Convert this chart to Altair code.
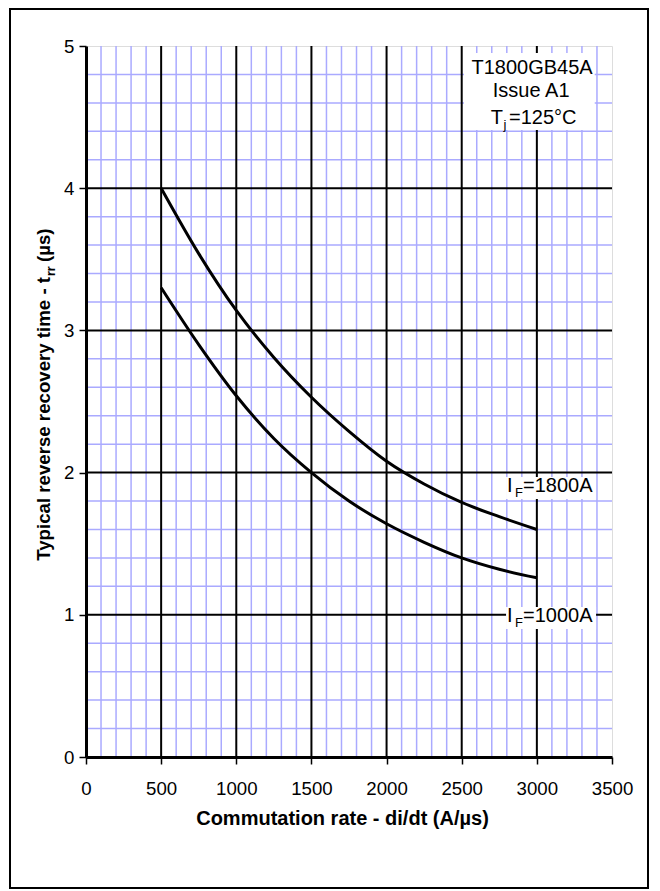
import altair as alt
import pandas as pd

# ---- data ----
di_dt = [500, 750, 1000, 1250, 1500, 1750, 2000, 2250, 2500, 2750, 3000]
trr_1800 = [4.00, 3.54, 3.14, 2.81, 2.53, 2.29, 2.08, 1.92, 1.79, 1.69, 1.60]
trr_1000 = [3.30, 2.90, 2.54, 2.24, 2.00, 1.80, 1.64, 1.51, 1.40, 1.32, 1.26]

x_ticks = [0, 500, 1000, 1500, 2000, 2500, 3000, 3500]
y_ticks = [0, 1, 2, 3, 4, 5]
major_x = [500, 1000, 1500, 2000, 2500, 3000]
major_y = [1, 2, 3, 4]
minor_x = [v for v in range(100, 3500, 100) if v % 500 != 0]
minor_y = [round(i * 0.2, 1) for i in range(1, 25) if i % 5 != 0]

FONT = "Liberation Sans"
W, H = 526, 711

curves = pd.DataFrame({
    "di": di_dt * 2,
    "trr": trr_1800 + trr_1000,
    "series": ["IF=1800A"] * len(di_dt) + ["IF=1000A"] * len(di_dt),
})

xs = alt.Scale(domain=[0, 3500], nice=False, zero=False)
ys = alt.Scale(domain=[0, 5], nice=False, zero=False)

x_axis = alt.Axis(
    values=x_ticks, grid=False, domainColor="black", domainWidth=3,
    tickColor="black", tickWidth=1.5, tickSize=7, zindex=2,
    labelFont=FONT, labelFontSize=18.67, labelColor="black", labelPadding=15,
    labelFlush=False, labelOverlap=False, format="d",
    title="Commutation rate - di/dt (A/µs)", titleFont=FONT,
    titleFontSize=20, titleFontWeight="bold", titleColor="black",
    titlePadding=11, titleX=256, titleAlign="center")
y_axis = alt.Axis(
    values=y_ticks, grid=False, domainColor="black", domainWidth=3,
    tickColor="black", tickWidth=1.5, tickSize=7, zindex=2,
    labelFont=FONT, labelFontSize=18.67, labelColor="black", labelPadding=5,
    labelFlush=False, labelOverlap=False, format="d", title="")


def X(f):
    return alt.X(f, scale=xs, axis=x_axis)


def Y(f):
    return alt.Y(f, scale=ys, axis=y_axis)


minor_v = alt.Chart(pd.DataFrame({"x": minor_x})).mark_rule(
    color="#aaaaff", strokeWidth=1.5).encode(x=X("x:Q"))
minor_h = alt.Chart(pd.DataFrame({"y": minor_y})).mark_rule(
    color="#aaaaff", strokeWidth=1.5).encode(y=Y("y:Q"))
major_v = alt.Chart(pd.DataFrame({"x": major_x})).mark_rule(
    color="black", strokeWidth=2).encode(x=X("x:Q"))
major_h = alt.Chart(pd.DataFrame({"y": major_y})).mark_rule(
    color="black", strokeWidth=2).encode(y=Y("y:Q"))

lines = alt.Chart(curves).mark_line(
    color="black", strokeWidth=3, interpolate="monotone").encode(
    x=X("di:Q"), y=Y("trr:Q"), detail="series:N")

# ---- annotation boxes (white backgrounds) ----
boxes = pd.DataFrame({
    "x1": [2515, 2795, 2795],
    "x2": [3385, 3394, 3394],
    "y1": [4.41, 1.814, 0.90],
    "y2": [4.95, 1.969, 1.055],
})
box_layer = alt.Chart(boxes).mark_rect(color="white").encode(
    x=X("x1:Q"), x2="x2:Q", y=Y("y1:Q"), y2="y2:Q")


def txt(df, size, align):
    return alt.Chart(df).mark_text(
        font=FONT, fontSize=size, align=align, baseline="alphabetic",
        color="black").encode(x=X("x:Q"), y=Y("y:Q"), text="t:N")


center_txt = txt(pd.DataFrame({"x": [2968, 2962], "y": [4.803, 4.641],
                               "t": ["T1800GB45A", "Issue A1"]}), 20, "center")
left_big = txt(pd.DataFrame({
    "x": [2815, 2801, 2908, 2801, 2908],
    "y": [4.451, 1.864, 1.864, 0.949, 0.949],
    "t": ["=125°C", "I", "=1800A", "I", "=1000A"]}), 20, "left")
right_big = txt(pd.DataFrame({"x": [2775], "y": [4.451], "t": ["T"]}), 20, "right")
subs = txt(pd.DataFrame({
    "x": [2778, 2854, 2854],
    "y": [4.416, 1.828, 0.914],
    "t": ["j", "F", "F"]}), 13, "left")

# ---- y-axis title with subscript (rotated) ----
one = pd.DataFrame({"a": [0]})
yt1 = alt.Chart(one).mark_text(font=FONT, fontSize=18.67, fontWeight="bold",
    angle=270, align="right", baseline="alphabetic", color="black").encode(
    x=alt.value(-36), y=alt.value(231), text=alt.value("Typical reverse recovery time - t"))
yt2 = alt.Chart(one).mark_text(font=FONT, fontSize=12.5, fontWeight="bold",
    angle=270, align="left", baseline="alphabetic", color="black").encode(
    x=alt.value(-31), y=alt.value(230), text=alt.value("rr"))
yt3 = alt.Chart(one).mark_text(font=FONT, fontSize=18.67, fontWeight="bold",
    angle=270, align="left", baseline="alphabetic", color="black").encode(
    x=alt.value(-36), y=alt.value(216), text=alt.value("(µs)"))

frame = alt.Chart(one).mark_rect(fillOpacity=0, stroke="black", strokeWidth=2).encode(
    x=alt.value(-76), x2=alt.value(562), y=alt.value(-37), y2=alt.value(842))

chart = alt.layer(
    minor_v, minor_h, major_v, major_h, lines, box_layer,
    center_txt, left_big, right_big, subs, yt1, yt2, yt3, frame,
).properties(
    width=W, height=H,
    padding={"left": 78, "top": 38, "right": 40, "bottom": 133},
    autosize=alt.AutoSizeParams(type="none"),
).configure_view(stroke="black", strokeWidth=3).configure(background="white")

chart.save("out.html", embed_options={"renderer": "svg", "actions": False})
